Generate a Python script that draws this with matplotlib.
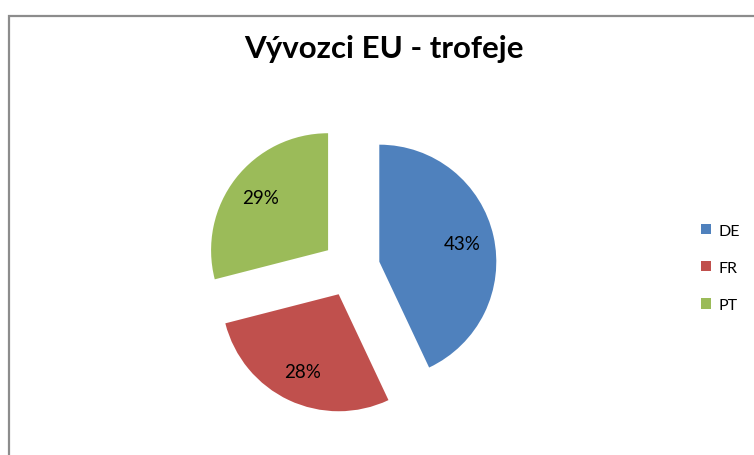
import matplotlib
matplotlib.use("Agg")
import matplotlib.pyplot as plt
from matplotlib.patches import Rectangle

plt.rcParams['font.family'] = ['Lato', 'DejaVu Sans']

# data
zeme = ["DE", "FR", "PT"]
podily = [43, 28, 29]
barvy = ["#4F81BD", "#C0504D", "#9BBB59"]

W, H = 754, 456
fig = plt.figure(figsize=(W / 100, H / 100), dpi=100)
ax = fig.add_axes([0, 0, 1, 1])

# ramecek grafu (presahuje vpravo a dole)
fig.patches.append(Rectangle((9 / W, -0.1), 1.2, 1 - 17 / H + 0.1,
                             transform=fig.transFigure, fill=False,
                             edgecolor="#8c8c8c", linewidth=1.6))

# -------- KOLAC --------
wedges, texts, pcts = ax.pie(podily,
                             colors=barvy,
                             explode=[29, 29, 29],
                             center=(351, H - 269),
                             radius=117,
                             startangle=90,
                             counterclock=False,
                             autopct='%1.0f%%',
                             pctdistance=0.73,
                             textprops={'fontsize': 13.5, 'color': 'black'})

ax.set_xlim(0, W)
ax.set_ylim(0, H)
ax.set_aspect('equal')
ax.axis('off')

# -------- TITULEK --------
fig.text(384 / W, 1 - 58 / H, "Vývozci EU - trofeje",
         ha='center', va='baseline', fontsize=22.5, fontweight='bold')

# -------- LEGENDA --------
ax.legend(wedges, zeme,
          loc='center left',
          bbox_to_anchor=(701 / W, 1 - 269 / H),
          bbox_transform=fig.transFigure,
          frameon=False,
          fontsize=11.5,
          handlelength=0.6, handleheight=0.6,
          handletextpad=0.5,
          labelspacing=1.45,
          borderpad=0, borderaxespad=0)

fig.savefig("out.png", dpi=100)
